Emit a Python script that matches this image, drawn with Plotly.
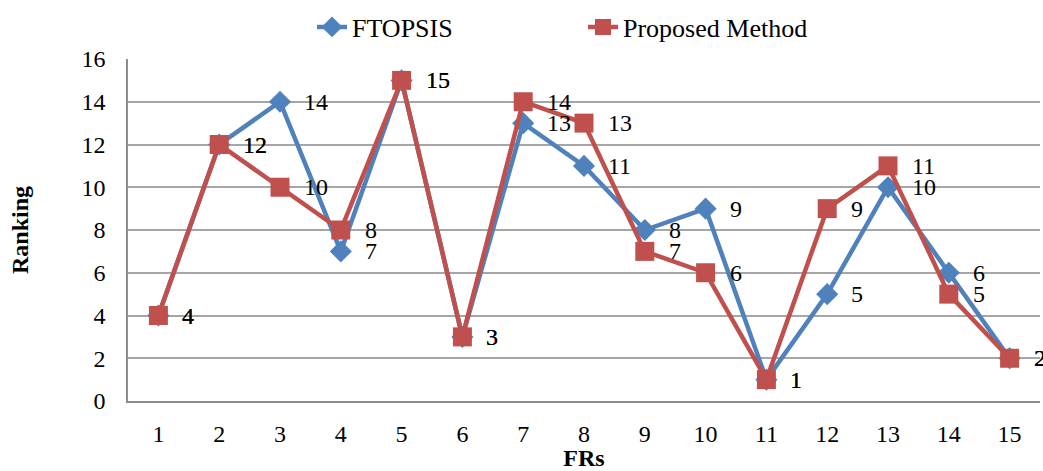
import plotly.graph_objects as go

frs = list(range(1, 16))
ftopsis = [4, 12, 14, 7, 15, 3, 13, 11, 8, 9, 1, 5, 10, 6, 2]
proposed = [4, 12, 10, 8, 15, 3, 14, 13, 7, 6, 1, 9, 11, 5, 2]

BLUE = "#4F81BD"
RED = "#C0504D"
FONT = "'Times New Roman', 'Liberation Serif', serif"

fig = go.Figure()
fig.add_trace(go.Scatter(
    x=frs, y=ftopsis, mode="lines+markers", name="FTOPSIS",
    line=dict(color=BLUE, width=4.5),
    marker=dict(symbol="diamond", size=17, color=BLUE),
    cliponaxis=False,
))
fig.add_trace(go.Scatter(
    x=frs, y=proposed, mode="lines+markers", name="Proposed Method",
    line=dict(color=RED, width=4.5),
    marker=dict(symbol="square", size=19, color=RED),
    cliponaxis=False,
))

annotations = []
for series in (ftopsis, proposed):
    for xv, yv in zip(frs, series):
        annotations.append(dict(
            x=xv, y=yv, xref="x", yref="y", text=str(yv),
            showarrow=False, xanchor="left", yanchor="middle",
            xshift=22, font=dict(family=FONT, size=24, color="black"),
        ))

fig.update_layout(
    width=1043, height=471,
    margin=dict(l=128, r=3, t=59, b=70, autoexpand=False),
    paper_bgcolor="white", plot_bgcolor="white",
    font=dict(family=FONT, size=24, color="black"),
    showlegend=True,
    legend=dict(orientation="h", xref="container", yref="container",
                x=312 / 1043, xanchor="left", y=1 - 27 / 471, yanchor="middle",
                font=dict(family=FONT, size=26), tracegroupgap=0,
                entrywidth=226, entrywidthmode="pixels"),
    annotations=annotations,
)
fig.update_xaxes(
    range=[0.5, 15.5], tickvals=frs, ticktext=[str(v) for v in frs],
    showgrid=False, showline=True, linecolor="#8C8C8C", linewidth=1.5,
    ticks="", ticklabelstandoff=10, tickfont=dict(family=FONT, size=24),
    title=dict(text="<b>FRs</b>", font=dict(family=FONT, size=24), standoff=0),
    zeroline=False, automargin=False,
)
fig.update_yaxes(
    range=[0, 16], dtick=2, showgrid=True, gridcolor="#A6A6A6", gridwidth=1.5,
    showline=True, linecolor="#8C8C8C", linewidth=1.5,
    ticks="", ticklabelstandoff=16, tickfont=dict(family=FONT, size=24),
    title=dict(text="<b>Ranking</b>", font=dict(family=FONT, size=24), standoff=46),
    zeroline=False, automargin=False,
)

fig.write_html("out.html", config={"displayModeBar": False},
               post_script="document.body.style.margin='0';document.body.style.overflow='hidden';")
